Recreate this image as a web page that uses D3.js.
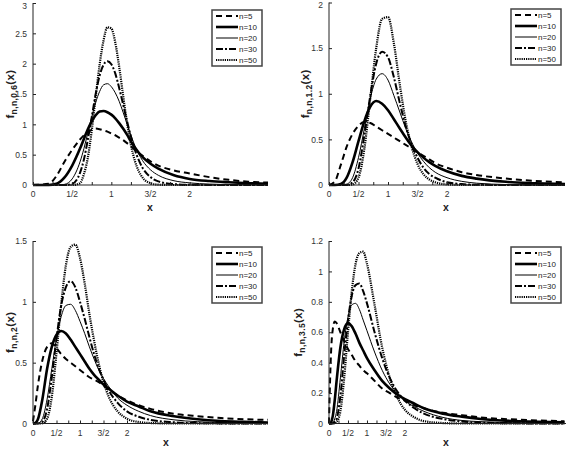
<!DOCTYPE html>
<html><head><meta charset="utf-8">
<script src="https://cdn.jsdelivr.net/npm/d3@7/dist/d3.min.js"></script>
<style>
html,body{margin:0;padding:0;background:#fff;}
svg text{font-family:"Liberation Sans",Arial,Helvetica,sans-serif;}
</style></head><body>
<svg id="c" width="566" height="449"></svg>
<script>
// ---------- data ----------
const seriesLabels = ["n=5","n=10","n=20","n=30","n=50"];
const lambdaLabels = ["0.6","1.2","2","3.5"];
const xTickValues = [0,0.5,1,1.5,2];
const xTickLabels = ["0","1/2","1","3/2","2"];
const yTicks1 = [0,0.5,1,1.5,2,2.5,3];
const yTicks2 = [0,0.5,1,1.5,2];
const yTicks3 = [0,0.5,1,1.5];
const yTicks4 = [0,0.2,0.4,0.6,0.8,1,1.2];

// panel 1 (lambda = 0.6)
const x1 = [0,0.2,0.3,0.4,0.5,0.6,0.65,0.7,0.75,0.8,0.85,0.9,0.95,1.0,1.05,1.1,1.15,1.2,1.25,1.3,1.4,1.5,1.6,1.8,2.0,2.25,2.5,2.75,3.0];
const p1n5  = [0,0.02,0.15,0.38,0.58,0.75,0.82,0.87,0.91,0.93,0.92,0.9,0.88,0.85,0.82,0.78,0.74,0.69,0.64,0.58,0.48,0.39,0.32,0.24,0.19,0.13,0.085,0.055,0.04];
const p1n10 = [0,0,0.02,0.12,0.32,0.6,0.76,0.92,1.05,1.15,1.21,1.22,1.2,1.16,1.1,1.02,0.93,0.83,0.72,0.62,0.46,0.35,0.27,0.16,0.1,0.065,0.045,0.03,0.02];
const p1n20 = [0,0,0,0.01,0.1,0.38,0.6,0.86,1.12,1.36,1.54,1.65,1.67,1.62,1.52,1.38,1.2,1.01,0.82,0.65,0.4,0.25,0.16,0.07,0.035,0.015,0.008,0.004,0.002];
const p1n30 = [0,0,0,0,0.02,0.2,0.42,0.75,1.12,1.5,1.8,1.98,2.04,1.99,1.84,1.6,1.33,1.05,0.8,0.58,0.28,0.13,0.06,0.015,0.004,0,0,0,0];
const p1n50 = [0,0,0,0,0,0.03,0.18,0.45,0.9,1.45,1.98,2.38,2.6,2.58,2.35,1.95,1.48,1.03,0.66,0.4,0.12,0.03,0.005,0,0,0,0,0,0];

// panel 2 (lambda = 1.2)
const x2 = [0,0.1,0.2,0.3,0.4,0.5,0.6,0.7,0.8,0.9,1.0,1.1,1.2,1.3,1.4,1.5,1.6,1.7,1.8,2.0,2.25,2.5,3.0,3.5,4.0];
const p2n5  = [0,0.04,0.22,0.42,0.56,0.65,0.69,0.68,0.64,0.6,0.56,0.52,0.48,0.44,0.4,0.36,0.32,0.28,0.24,0.19,0.14,0.11,0.07,0.045,0.03];
const p2n10 = [0,0,0.01,0.08,0.25,0.48,0.7,0.86,0.92,0.89,0.82,0.72,0.62,0.52,0.43,0.36,0.3,0.25,0.21,0.15,0.1,0.07,0.035,0.02,0.01];
const p2n20 = [0,0,0,0.01,0.08,0.3,0.62,0.95,1.16,1.22,1.15,0.98,0.8,0.62,0.47,0.35,0.26,0.19,0.14,0.08,0.04,0.02,0.005,0.001,0];
const p2n30 = [0,0,0,0,0.03,0.18,0.55,0.98,1.33,1.46,1.4,1.18,0.9,0.64,0.45,0.3,0.19,0.12,0.08,0.03,0.01,0.003,0,0,0];
const p2n50 = [0,0,0,0,0.005,0.08,0.4,0.95,1.5,1.82,1.84,1.55,1.1,0.7,0.42,0.23,0.12,0.06,0.03,0.006,0,0,0,0,0];

// panel 3 (lambda = 2)
const x3 = [0,0.05,0.1,0.2,0.3,0.4,0.5,0.6,0.7,0.8,0.9,1.0,1.1,1.2,1.3,1.4,1.5,1.6,1.8,2.0,2.25,2.5,3.0,3.5,4.0,4.5,5.0];
const p3n5  = [0.02,0.15,0.3,0.52,0.63,0.66,0.62,0.57,0.53,0.5,0.47,0.44,0.41,0.38,0.36,0.34,0.31,0.28,0.23,0.19,0.15,0.12,0.08,0.06,0.045,0.035,0.03];
const p3n10 = [0,0.005,0.03,0.2,0.45,0.63,0.73,0.76,0.74,0.69,0.63,0.57,0.51,0.45,0.4,0.36,0.32,0.29,0.23,0.18,0.14,0.1,0.06,0.035,0.02,0.013,0.008];
const p3n20 = [0,0,0,0.04,0.2,0.45,0.7,0.88,0.97,0.98,0.93,0.84,0.74,0.63,0.53,0.44,0.37,0.31,0.21,0.15,0.1,0.065,0.03,0.015,0.008,0.004,0.002];
const p3n30 = [0,0,0,0.015,0.12,0.38,0.7,0.97,1.12,1.17,1.12,1.0,0.86,0.71,0.57,0.45,0.36,0.28,0.17,0.1,0.055,0.03,0.01,0.003,0.001,0,0];
const p3n50 = [0,0,0,0.002,0.04,0.22,0.58,0.98,1.3,1.45,1.47,1.36,1.15,0.9,0.68,0.49,0.34,0.23,0.1,0.04,0.012,0.004,0,0,0,0,0];

// panel 4 (lambda = 3.5)
const x4 = [0,0.03,0.06,0.1,0.15,0.2,0.3,0.4,0.5,0.6,0.7,0.8,0.9,1.0,1.2,1.4,1.6,1.8,2.0,2.25,2.5,3.0,3.5,4.0,5.0,6.2];
const p4n5  = [0,0.3,0.5,0.62,0.67,0.66,0.6,0.54,0.49,0.45,0.41,0.38,0.35,0.33,0.28,0.23,0.2,0.17,0.15,0.12,0.1,0.07,0.055,0.04,0.025,0.015];
const p4n10 = [0,0,0.01,0.05,0.15,0.28,0.5,0.62,0.66,0.64,0.59,0.53,0.48,0.43,0.35,0.28,0.23,0.19,0.16,0.13,0.1,0.065,0.045,0.03,0.015,0.008];
const p4n20 = [0,0,0,0.005,0.03,0.08,0.3,0.54,0.7,0.78,0.79,0.75,0.68,0.61,0.47,0.35,0.26,0.2,0.15,0.11,0.08,0.04,0.02,0.012,0.004,0.001];
const p4n30 = [0,0,0,0,0.01,0.03,0.18,0.45,0.68,0.84,0.91,0.92,0.87,0.79,0.6,0.43,0.3,0.21,0.15,0.1,0.065,0.03,0.013,0.006,0.001,0];
const p4n50 = [0,0,0,0,0,0.01,0.08,0.3,0.6,0.87,1.05,1.12,1.13,1.05,0.78,0.5,0.3,0.17,0.09,0.04,0.016,0.003,0,0,0,0];

// ---------- layout ----------
const panels = [
  {xs:x1, ys:[p1n5,p1n10,p1n20,p1n30,p1n50], xmax:3,    ymax:3,   yt:yTicks1, lam:lambdaLabels[0], L:33,  R:268, T:3,   B:185,   ylabX:14,  xlabX:150, xlabY:211, tickY:197, leg:[212,10]},
  {xs:x2, ys:[p2n5,p2n10,p2n20,p2n30,p2n50], xmax:4,    ymax:2,   yt:yTicks2, lam:lambdaLabels[1], L:329, R:565, T:2.5, B:185,   ylabX:309, xlabX:446, xlabY:211, tickY:197, leg:[511,9]},
  {xs:x3, ys:[p3n5,p3n10,p3n20,p3n30,p3n50], xmax:5,    ymax:1.5, yt:yTicks3, lam:lambdaLabels[2], L:33,  R:268, T:241, B:423.5, ylabX:14,  xlabX:166, xlabY:446, tickY:436, leg:[212,247]},
  {xs:x4, ys:[p4n5,p4n10,p4n20,p4n30,p4n50], xmax:6.24, ymax:1.2, yt:yTicks4, lam:lambdaLabels[3], L:329, R:566, T:241, B:423.5, ylabX:302, xlabX:446, xlabY:446, tickY:436, leg:[511,247]}
];
const styles = [
  {w:2,   dash:"6,4"},
  {w:2.6, dash:null},
  {w:1,   dash:null},
  {w:2,   dash:"7,2,2,2"},
  {w:2.2, dash:"1.2,1"}
];

const svg = d3.select("#c");
const tickCol = "#333";

panels.forEach((p) => {
  const g = svg.append("g");
  const x = d3.scaleLinear().domain([0,p.xmax]).range([p.L,p.R]);
  const y = d3.scaleLinear().domain([0,p.ymax]).range([p.B,p.T]);

  // curves
  p.ys.forEach((ys,i) => {
    const pts = p.xs.map((xv,j)=>[xv,ys[j]]);
    const line = d3.line().x(d=>x(d[0])).y(d=>y(d[1])).curve(d3.curveMonotoneX);
    g.append("path").attr("d",line(pts)).attr("fill","none").attr("stroke","#000")
      .attr("stroke-width",styles[i].w).attr("stroke-dasharray",styles[i].dash)
      .attr("stroke-linejoin","round");
  });

  // x axis
  const xa = d3.axisBottom(x).tickValues(d3.range(0,2.01,0.25)).tickSize(-3).tickFormat("");
  const gx = g.append("g").attr("transform",`translate(0,${p.B})`).call(xa);
  gx.select(".domain").attr("stroke","#222").attr("d",`M${p.L},0H${p.R}`);
  gx.selectAll(".tick line").attr("stroke","#222");
  g.selectAll(null).data(xTickValues).enter().append("text")
    .attr("x",d=>x(d)).attr("y",p.tickY).attr("text-anchor","middle")
    .attr("font-size","8.5px").attr("fill",tickCol)
    .text((d,i)=>xTickLabels[i]);

  // y axis
  const ya = d3.axisLeft(y).tickValues(p.yt).tickSize(-3).tickPadding(6).tickFormat(d3.format("~g"));
  const gy = g.append("g").attr("transform",`translate(${p.L},0)`).call(ya);
  gy.select(".domain").attr("stroke","#222").attr("d",`M0,${p.T}V${p.B}`);
  gy.selectAll(".tick line").attr("stroke","#222");
  gy.selectAll(".tick text").attr("font-size","8.5px").attr("fill",tickCol)
    .attr("font-family","Liberation Sans, Arial, sans-serif")
    .attr("dy", d => (y(d) < 8 ? "0.62em" : "0.32em"));

  // x label
  g.append("text").attr("x",p.xlabX).attr("y",p.xlabY).attr("text-anchor","middle")
    .attr("font-size","10.5px").attr("font-weight","bold").attr("fill","#222").text("x");

  // y label
  const cy = (p.T+p.B)/2;
  const yl = g.append("text").attr("transform",`translate(${p.ylabX},${cy}) rotate(-90)`)
    .attr("text-anchor","middle").attr("font-size","11.5px").attr("font-weight","bold")
    .attr("letter-spacing","0.4px").attr("fill","#222");
  yl.append("tspan").text("f");
  yl.append("tspan").attr("font-size","8.5px").attr("dy","3").text("n,n," + p.lam);
  yl.append("tspan").attr("dy","-3").text("(x)");

  // legend
  const [lx,ly] = p.leg;
  g.append("rect").attr("x",lx).attr("y",ly).attr("width",50).attr("height",56)
    .attr("fill","#fff").attr("stroke","#444").attr("stroke-width",1.5);
  seriesLabels.forEach((s,i)=>{
    const yy = ly + 6 + i*11;
    g.append("line").attr("x1",lx+4).attr("x2",lx+26).attr("y1",yy).attr("y2",yy)
      .attr("stroke","#000").attr("stroke-width",styles[i].w).attr("stroke-dasharray",styles[i].dash);
    g.append("text").attr("x",lx+27).attr("y",yy+2.8).attr("font-size","8px").attr("fill","#222").text(s);
  });
});
</script>
</body></html>
